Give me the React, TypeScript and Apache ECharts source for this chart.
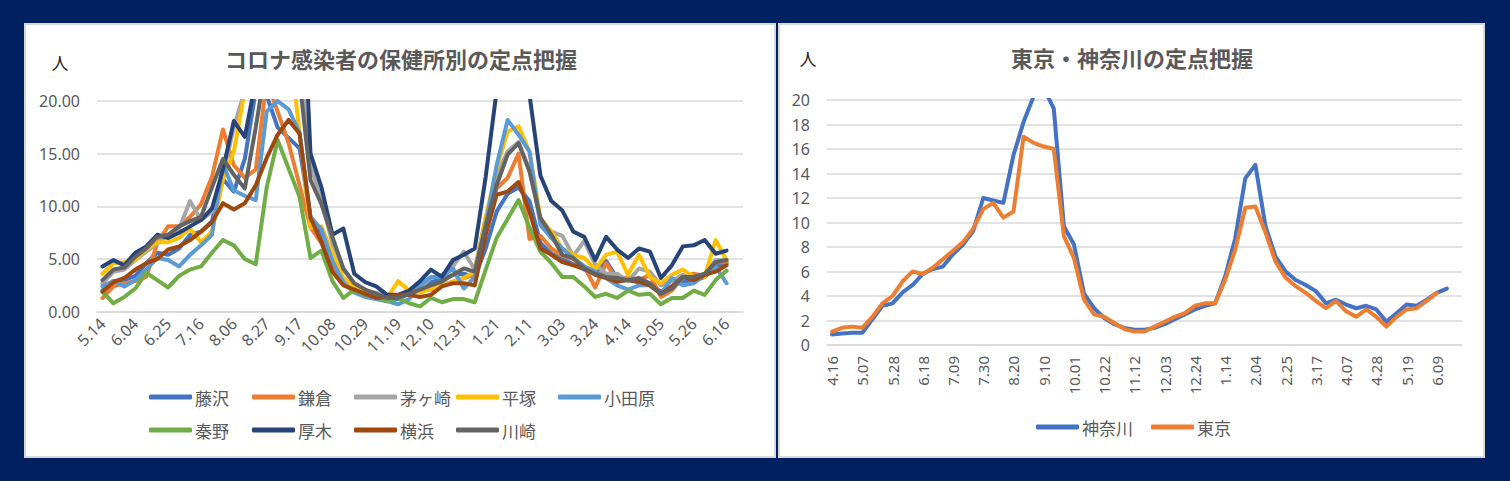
import { useEffect, useRef } from "react";
import * as echarts from "echarts";

// ---------- categories ----------
const leftDates = [
  "5.14","5.21","5.28","6.04","6.11","6.18","6.25","7.02","7.09","7.16","7.23","7.30",
  "8.06","8.13","8.20","8.27","9.03","9.10","9.17","9.24","10.01","10.08","10.15","10.22",
  "10.29","11.05","11.12","11.19","11.26","12.03","12.10","12.17","12.24","12.31","1.07","1.14",
  "1.21","1.28","2.04","2.11","2.18","2.25","3.03","3.10","3.17","3.24","3.31","4.07",
  "4.14","4.21","4.28","5.05","5.12","5.19","5.26","6.02","6.09","6.16","6.23",
];
const rightDates = [
  "4.16","4.23","4.30","5.07","5.14","5.21","5.28","6.04","6.11","6.18","6.25","7.02",
  "7.09","7.16","7.23","7.30","8.06","8.13","8.20","8.27","9.03","9.10","9.17","9.24",
  "10.01","10.08","10.15","10.22","10.29","11.05","11.12","11.19","11.26","12.03","12.10","12.17",
  "12.24","12.31","1.07","1.14","1.21","1.28","2.04","2.11","2.18","2.25","3.03","3.10",
  "3.17","3.24","3.31","4.07","4.14","4.21","4.28","5.05","5.12","5.19","5.26","6.02",
  "6.09","6.16","6.23",
];

// ---------- left chart series (保健所別) ----------
const fujisawa = [2.0,2.9,3.0,3.4,4.6,5.6,5.4,6.0,7.3,7.6,8.6,12.6,11.4,14.5,21.0,20.5,17.5,16.5,15.5,9.0,7.5,4.5,2.8,2.0,1.6,1.5,1.0,1.2,1.7,2.4,2.8,3.1,3.5,3.6,3.3,6.0,9.5,11.2,11.8,10.5,6.5,5.5,5.0,4.5,4.0,3.6,4.8,3.2,3.0,2.8,2.6,1.9,2.4,2.9,2.9,3.3,4.3,4.6];
const kamakura = [1.3,2.4,2.7,2.9,3.3,6.5,8.1,8.1,9.0,10.2,12.8,17.3,13.9,12.7,13.5,22.0,19.0,16.0,12.0,8.0,6.5,4.5,2.8,2.0,1.8,1.6,1.2,1.5,1.8,2.0,2.1,2.5,2.85,3.2,3.5,7.6,11.7,12.7,15.0,6.9,7.2,6.0,5.3,5.0,4.3,2.3,4.6,3.0,3.3,3.0,3.5,1.4,2.0,3.3,3.6,3.4,4.7,4.7];
const chigasaki = [2.7,3.8,4.0,4.9,5.7,6.5,7.3,7.9,10.5,8.7,9.5,13.0,17.5,21.0,24.0,26.0,27.0,26.0,24.0,14.0,10.5,6.5,4.0,2.6,2.0,1.8,1.4,1.3,1.8,2.3,3.2,3.5,4.3,5.7,4.0,9.0,13.0,15.2,16.1,13.5,8.5,7.6,7.2,5.3,6.7,4.5,3.6,3.6,2.9,4.1,3.8,2.5,2.9,3.5,3.0,3.6,4.9,4.9];
const hiratsuka = [3.6,4.6,4.7,4.9,5.9,6.6,6.6,7.0,7.9,6.6,7.6,12.5,15.2,21.0,25.0,27.0,27.0,26.0,17.0,8.0,8.1,5.5,3.2,2.3,1.9,1.6,1.3,2.9,2.0,1.8,2.2,2.5,2.85,3.2,3.8,8.9,13.6,17.1,17.6,15.2,8.9,7.6,6.0,5.4,5.1,4.0,5.4,5.7,3.5,5.4,3.3,2.7,3.5,4.0,3.3,3.3,6.8,4.9];
const odawara = [2.4,2.9,2.4,3.0,4.0,5.1,4.9,4.3,5.4,6.3,7.3,14.0,11.5,11.0,10.6,19.0,20.0,19.2,17.0,9.0,7.8,4.8,2.8,1.8,1.4,1.2,1.0,0.7,1.2,2.5,3.3,3.3,4.1,2.2,3.3,8.2,13.9,18.2,16.8,15.2,8.2,7.0,6.0,5.1,4.3,3.8,3.2,2.5,2.1,2.5,2.5,1.7,3.2,2.5,2.7,3.5,4.3,2.7];
const hadano = [1.9,0.8,1.4,2.2,3.7,3.0,2.3,3.4,4.0,4.3,5.6,6.8,6.3,5.0,4.5,11.8,16.3,13.6,10.9,5.1,5.8,2.9,1.3,2.1,1.6,1.4,1.0,1.3,0.8,0.5,1.3,0.9,1.2,1.2,0.9,4.0,7.0,8.8,10.6,8.0,5.7,4.6,3.3,3.3,2.4,1.4,1.7,1.3,2.0,1.6,1.7,0.7,1.3,1.3,2.0,1.6,3.0,3.9];
const atsugi = [4.3,4.9,4.4,5.6,6.2,7.3,7.0,7.5,8.1,8.7,9.8,13.5,18.1,16.6,22,27,30,33,38,15,11.8,7.3,7.9,3.6,2.8,2.4,1.6,1.6,2.0,2.9,4.0,3.3,4.9,5.4,6.0,12.8,21,27,28,20.6,12.9,10.5,9.6,7.6,7.1,4.9,7.1,5.9,5.1,6.0,5.7,3.2,4.4,6.2,6.3,6.8,5.5,5.8];
const yokohama = [1.9,2.8,3.2,4.0,4.6,5.0,5.9,6.2,6.8,7.6,8.5,10.3,9.7,10.3,12.0,14.6,16.8,18.2,16.9,8.9,6.6,3.8,2.5,2.1,1.7,1.3,1.4,1.6,1.6,1.4,1.6,2.4,2.7,2.7,2.5,7.3,11.1,11.4,12.3,9.5,6.0,5.4,4.7,4.4,4.1,3.5,3.2,2.85,3.0,2.85,2.5,1.7,2.4,3.3,3.0,3.5,3.8,4.4];
const kawasaki = [3.0,4.0,4.2,5.2,6.0,7.1,7.3,8.1,8.6,9.0,11.8,14.5,13.0,11.7,17.5,24,26,25,22,12.5,10.2,7.1,4.1,2.7,2.1,1.7,1.3,1.3,1.7,2.1,2.5,2.85,3.5,4.1,3.8,8.2,12.0,14.9,16.0,13.3,8.9,7.3,5.4,5.1,4.1,3.6,3.3,3.2,3.0,3.2,2.7,1.7,2.2,3.3,3.3,3.6,4.7,4.9];

const leftNames = ["藤沢","鎌倉","茅ヶ崎","平塚","小田原","秦野","厚木","横浜","川崎"];
const leftValues = [fujisawa,kamakura,chigasaki,hiratsuka,odawara,hadano,atsugi,yokohama,kawasaki];
const leftColors = ["#4472C4","#ED7D31","#A5A5A5","#FFC000","#5B9BD5","#70AD47","#264478","#9E480E","#636363"];

// ---------- right chart series ----------
const kanagawa = [0.85,0.93,1.0,1.0,2.1,3.2,3.4,4.3,4.9,5.8,6.2,6.4,7.4,8.2,9.3,12.0,11.8,11.6,15.5,18.2,20.3,21.0,19.3,9.7,8.2,4.2,3.0,2.2,1.7,1.4,1.25,1.25,1.4,1.7,2.1,2.5,2.9,3.2,3.4,5.6,8.7,13.6,14.7,9.7,7.2,6.0,5.3,4.9,4.4,3.4,3.7,3.3,3.0,3.2,2.9,1.9,2.6,3.3,3.2,3.7,4.25,4.6];
const tokyo = [1.1,1.4,1.5,1.4,2.3,3.4,4.0,5.2,6.0,5.8,6.3,7.0,7.7,8.4,9.5,11.1,11.6,10.4,10.9,17.0,16.5,16.2,16.0,8.9,7.1,3.7,2.5,2.3,1.8,1.3,1.1,1.1,1.5,1.9,2.3,2.6,3.2,3.4,3.4,5.3,7.8,11.2,11.3,9.2,6.8,5.5,4.8,4.25,3.6,3.0,3.6,2.75,2.3,2.9,2.3,1.5,2.3,2.9,3.0,3.6,4.25];
const rightNames = ["神奈川","東京"];
const rightValues = [kanagawa, tokyo];
const rightColors = ["#4472C4","#ED7D31"];

const leftTicks = [0, 5, 10, 15, 20];
const rightTicks = [0, 2, 4, 6, 8, 10, 12, 14, 16, 18, 20];

const NUM_FONT = '"Noto Sans", "Noto Sans CJK JP", sans-serif';
const JP_FONT = '"Noto Sans CJK JP", "Noto Sans", sans-serif';
const GRAY = "#595959";
const GRID_LINE = "#D9D9D9";

export default function App() {
  const ref = useRef<HTMLDivElement>(null);

  useEffect(() => {
    if (!ref.current) return;
    const chart = echarts.init(ref.current, undefined, { renderer: "svg" });

    const lineSeries = (name: string, data: number[], color: string, idx: number) => ({
      name,
      type: "line",
      xAxisIndex: idx,
      yAxisIndex: idx,
      data,
      symbol: "none",
      showSymbol: false,
      clip: true,
      itemStyle: { color },
      lineStyle: { color, width: 4, join: "round", cap: "round" },
      emphasis: { disabled: true },
    });

    const legendItem = (name: string, left: number, top: number) => ({
      data: [name],
      left,
      top,
      padding: 0,
      itemGap: 0,
      icon: "roundRect",
      itemWidth: 43,
      itemHeight: 5,
      selectedMode: false,
      textStyle: { fontSize: 17, color: GRAY, fontFamily: JP_FONT, lineHeight: 18, padding: [0, 0, 0, -2] },
    });

    const leftLegendPos = [
      [149, 388], [252, 388], [354, 388], [456, 388], [558, 388],
      [149, 421], [252, 421], [354, 421], [456, 421],
    ];
    const rightLegendPos = [[1036, 418], [1151, 418]];

    const option: any = {
      animation: false,
      backgroundColor: "#002060",
      graphic: [
        { type: "rect", z: 0, shape: { x: 25, y: 24, width: 750, height: 433 }, style: { fill: "#ffffff", stroke: GRID_LINE, lineWidth: 2 } },
        { type: "rect", z: 0, shape: { x: 779, y: 24, width: 705, height: 433 }, style: { fill: "#ffffff", stroke: GRID_LINE, lineWidth: 2 } },
        { type: "text", z: 1, style: { text: "コロナ感染者の保健所別の定点把握", x: 401, y: 58, fill: GRAY, font: `bold 22px ${JP_FONT}`, textAlign: "center", textVerticalAlign: "middle" } },
        { type: "text", z: 1, style: { text: "東京・神奈川の定点把握", x: 1132, y: 57, fill: GRAY, font: `bold 22px ${JP_FONT}`, textAlign: "center", textVerticalAlign: "middle" } },
        { type: "text", z: 1, style: { text: "人", x: 60, y: 62, fill: "#222222", font: `17px ${JP_FONT}`, textAlign: "center", textVerticalAlign: "middle" } },
        { type: "text", z: 1, style: { text: "人", x: 808, y: 58, fill: "#222222", font: `17px ${JP_FONT}`, textAlign: "center", textVerticalAlign: "middle" } },
      ],
      grid: [
        { left: 97, top: 101, width: 646, height: 210.7 },
        { left: 827, top: 100, width: 635, height: 245 },
      ],
      xAxis: [
        {
          type: "category", gridIndex: 0, data: leftDates, boundaryGap: true,
          axisLine: { show: true, lineStyle: { color: GRID_LINE, width: 1.5 } },
          axisTick: { show: false },
          axisLabel: { interval: 2, rotate: 45, fontSize: 16, color: GRAY, fontFamily: NUM_FONT, margin: 9 },
        },
        {
          type: "category", gridIndex: 1, data: rightDates, boundaryGap: true,
          axisLine: { show: true, lineStyle: { color: GRID_LINE, width: 1.5 } },
          axisTick: { show: false },
          axisLabel: { interval: 2, rotate: 90, fontSize: 15, color: GRAY, fontFamily: NUM_FONT, margin: 11 },
        },
      ],
      yAxis: [
        {
          type: "value", gridIndex: 0, min: leftTicks[0], max: leftTicks[leftTicks.length - 1], interval: leftTicks[1] - leftTicks[0],
          axisLine: { show: false }, axisTick: { show: false },
          splitLine: { lineStyle: { color: GRID_LINE, width: 1.5 } },
          axisLabel: { formatter: (v: number) => v.toFixed(2), fontSize: 16, color: GRAY, fontFamily: NUM_FONT, margin: 17 },
        },
        {
          type: "value", gridIndex: 1, min: rightTicks[0], max: rightTicks[rightTicks.length - 1], interval: rightTicks[1] - rightTicks[0],
          axisLine: { show: false }, axisTick: { show: false },
          splitLine: { lineStyle: { color: GRID_LINE, width: 1.5 } },
          axisLabel: { fontSize: 16, color: GRAY, fontFamily: NUM_FONT, margin: 17 },
        },
      ],
      legend: [
        ...leftNames.map((n, i) => legendItem(n, leftLegendPos[i][0], leftLegendPos[i][1])),
        ...rightNames.map((n, i) => legendItem(n, rightLegendPos[i][0], rightLegendPos[i][1])),
      ],
      series: [
        ...leftNames.map((n, i) => lineSeries(n, leftValues[i], leftColors[i], 0)),
        ...rightNames.map((n, i) => lineSeries(n, rightValues[i], rightColors[i], 1)),
      ],
    };

    chart.setOption(option);
    return () => chart.dispose();
  }, []);

  return <div ref={ref} style={{ position: "absolute", left: 0, top: 0, width: 1510, height: 481 }} />;
}
